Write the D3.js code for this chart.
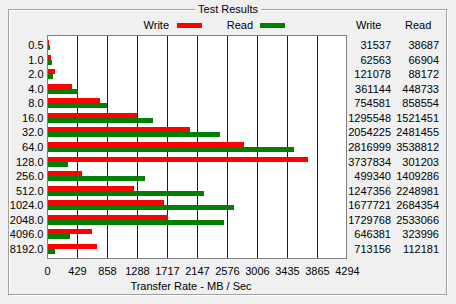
<!DOCTYPE html>
<html>
<head>
<meta charset="utf-8">
<script src="https://cdn.jsdelivr.net/npm/d3@7"></script>
<style>
  body { margin: 0; background: #f0f0f0; }
  svg text { font-family: "Liberation Sans", Arial, sans-serif; font-size: 11px; fill: #000; }
</style>
</head>
<body>
<script>
// transfer sizes (KB) and results (KB/s)
const sizes = ['0.5', '1.0', '2.0', '4.0', '8.0', '16.0', '32.0', '64.0', '128.0', '256.0', '512.0', '1024.0', '2048.0', '4096.0', '8192.0'];
const writeVals = [31537, 62563, 121078, 361144, 754581, 1295548, 2054225, 2816999, 3737834, 499340, 1247356, 1677721, 1729768, 646381, 713156];
const readVals  = [38687, 66904, 88172, 448733, 858554, 1521451, 2481455, 3538812, 301203, 1409286, 2248981, 2684354, 2533066, 323996, 112181];
const tickLabels = [0, 429, 858, 1288, 1717, 2147, 2576, 3006, 3435, 3865, 4294];
const maxRate = 4294.967;

const W = 456, H = 304;
const plot = { left: 47.5, right: 346.5, top: 35.5, bottom: 258.5 };

const svg = d3.select('body').append('svg')
    .attr('width', W)
    .attr('height', H);

svg.append('rect').attr('width', W).attr('height', H).attr('fill', '#f0f0f0');

// etched group box
svg.append('rect')
    .attr('x', 9.5).attr('y', 10.5).attr('width', 438).attr('height', 285)
    .attr('fill', 'none').attr('stroke', '#fff');
svg.append('rect')
    .attr('x', 8.5).attr('y', 9.5).attr('width', 438).attr('height', 285)
    .attr('fill', 'none').attr('stroke', '#a0a0a0');

const title = svg.append('text')
    .attr('x', 228).attr('y', 13)
    .attr('text-anchor', 'middle')
    .text('Test Results');
const tb = title.node().getBBox();
svg.insert('rect', 'text')
    .attr('x', tb.x - 3).attr('y', 8).attr('width', tb.width + 6).attr('height', 4)
    .attr('fill', '#f0f0f0');

// legend
const legend = [{ name: 'Write', color: '#ff0000', tx: 169, sx: 177 },
                { name: 'Read', color: '#008000', tx: 253, sx: 260 }];
legend.forEach(l => {
  svg.append('text').attr('x', l.tx).attr('y', 29).attr('text-anchor', 'end').text(l.name);
  svg.append('rect').attr('x', l.sx).attr('y', 23).attr('width', 25).attr('height', 5).attr('fill', l.color);
});

const x = d3.scaleLinear()
    .domain([0, maxRate])
    .range([47, 347]);

const y = d3.scaleBand()
    .domain(sizes)
    .range([36, 258])
    .paddingInner(0)
    .paddingOuter(0.12);

svg.append('rect')
    .attr('x', plot.left).attr('y', plot.top)
    .attr('width', plot.right - plot.left).attr('height', plot.bottom - plot.top)
    .attr('fill', '#fff');

// grid lines
svg.append('g')
    .attr('transform', 'translate(0,' + plot.bottom + ')')
    .call(d3.axisBottom(x).tickValues(tickLabels.slice(1, -1)).tickSize(-(plot.bottom - plot.top)).tickFormat(''))
    .call(g => g.select('.domain').remove())
    .call(g => g.selectAll('line').attr('stroke', '#0000ff').attr('shape-rendering', 'crispEdges'));

const rowCenter = d => Math.round(y(d) + y.bandwidth() / 2);

svg.append('g').selectAll('rect')
    .data(sizes)
    .enter().append('rect')
    .attr('x', 48)
    .attr('y', d => rowCenter(d) - 5)
    .attr('width', (d, i) => Math.round(x(writeVals[i] / 1000) - 48))
    .attr('height', 5)
    .attr('fill', '#ff0000');

svg.append('g').selectAll('rect')
    .data(sizes)
    .enter().append('rect')
    .attr('x', 48)
    .attr('y', d => rowCenter(d))
    .attr('width', (d, i) => Math.round(x(readVals[i] / 1000) - 48))
    .attr('height', 5)
    .attr('fill', '#008000');

svg.append('rect')
    .attr('x', plot.left).attr('y', plot.top)
    .attr('width', plot.right - plot.left).attr('height', plot.bottom - plot.top)
    .attr('fill', 'none').attr('stroke', '#808080');

// y labels
svg.append('g').selectAll('text')
    .data(sizes)
    .enter().append('text')
    .attr('x', 43.5)
    .attr('y', d => rowCenter(d) + 4)
    .attr('text-anchor', 'end')
    .text(d => d);

// x axis labels
svg.append('g')
    .attr('transform', 'translate(0,' + plot.bottom + ')')
    .call(d3.axisBottom(x).tickValues(tickLabels).tickSize(0).tickPadding(9).tickFormat(d => d))
    .call(g => g.select('.domain').remove())
    .call(g => g.selectAll('text').attr('font-family', null).attr('font-size', null));

svg.append('text')
    .attr('x', 191).attr('y', 290)
    .attr('text-anchor', 'middle')
    .text('Transfer Rate - MB / Sec');

// value columns
svg.append('text').attr('x', 356).attr('y', 29).text('Write');
svg.append('text').attr('x', 405).attr('y', 29).text('Read');

svg.append('g').selectAll('text')
    .data(sizes)
    .enter().append('text')
    .attr('x', 391)
    .attr('y', d => rowCenter(d) + 4)
    .attr('text-anchor', 'end')
    .text((d, i) => writeVals[i]);

svg.append('g').selectAll('text')
    .data(sizes)
    .enter().append('text')
    .attr('x', 439)
    .attr('y', d => rowCenter(d) + 4)
    .attr('text-anchor', 'end')
    .text((d, i) => readVals[i]);
</script>
</body>
</html>
